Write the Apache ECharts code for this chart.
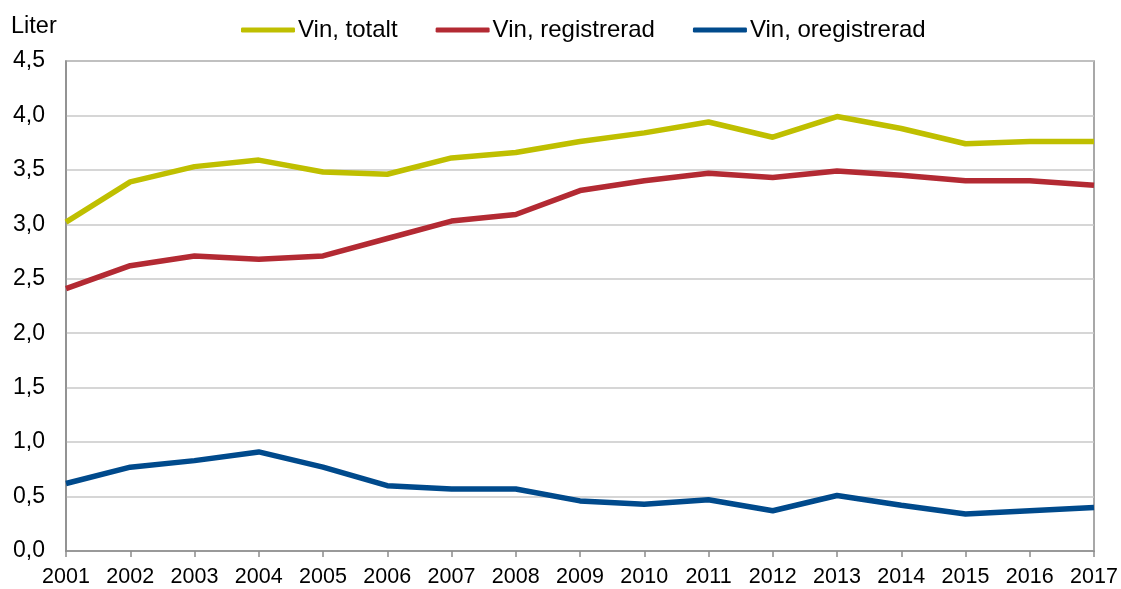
<!DOCTYPE html>
<html>
<head>
<meta charset="utf-8">
<script src="https://cdn.jsdelivr.net/npm/echarts@6/dist/echarts.min.js"></script>
<style>
  html, body { margin: 0; padding: 0; background: #fff; }
  #chart { width: 1121px; height: 589px; }
</style>
</head>
<body>
<div id="chart"></div>
<script>
// år på x-axeln
var years = ['2001', '2002', '2003', '2004', '2005', '2006', '2007', '2008', '2009',
  '2010', '2011', '2012', '2013', '2014', '2015', '2016', '2017']

// liter per invånare
var vinTotalt = [3.02, 3.39, 3.53, 3.59, 3.48, 3.46, 3.61, 3.66, 3.76, 3.84, 3.94, 3.80, 3.99, 3.88, 3.74, 3.76, 3.76]
var vinRegistrerad = [2.41, 2.62, 2.71, 2.68, 2.71, 2.87, 3.03, 3.09, 3.31, 3.40, 3.47, 3.43, 3.49, 3.45, 3.40, 3.40, 3.36]
var vinOregistrerad = [0.62, 0.77, 0.83, 0.91, 0.77, 0.60, 0.57, 0.57, 0.46, 0.43, 0.47, 0.37, 0.51, 0.42, 0.34, 0.37, 0.40]

var font = 'Liberation Sans, Arial, sans-serif'

var chart = echarts.init(document.getElementById('chart'))

/*========== serie-hjälpare ==========*/
function lineSeries(name, data, color) {
  return {
    name: name,
    type: 'line',
    data: data,
    showSymbol: false,
    symbol: 'none',
    lineStyle: { color: color, width: 5.5 },
    itemStyle: { color: color },
    animation: false
  }
}

chart.setOption({
  animation: false,
  textStyle: { fontFamily: font },
  legend: {
    top: 13,
    left: 236,
    itemWidth: 54,
    itemHeight: 5,
    itemGap: 38,
    icon: 'roundRect',
    textStyle: { fontSize: 24, color: '#000', fontFamily: font, padding: [0, 0, 0, -2] },
    data: ['Vin, totalt', 'Vin, registrerad', 'Vin, oregistrerad']
  },
  graphic: [{
    type: 'text',
    left: 11,
    top: 15,
    style: { text: 'Liter', fontSize: 23.5, fill: '#000', fontFamily: font }
  }],
  grid: {
    left: 66,
    right: 27,
    top: 61,
    bottom: 38,
    show: true,
    borderColor: '#8c8c8c',
    borderWidth: 1.5,
    containLabel: false
  },
  xAxis: {
    type: 'category',
    data: years,
    boundaryGap: false,
    axisLine: { lineStyle: { color: '#8c8c8c', width: 1.5 } },
    axisTick: { show: true, length: 6, lineStyle: { color: '#8c8c8c', width: 1.5 } },
    axisLabel: { fontSize: 21.5, color: '#000', margin: 15, fontFamily: font },
    splitLine: { show: false }
  },
  yAxis: {
    type: 'value',
    min: 0,
    max: 4.5,
    interval: 0.5,
    axisLine: { show: true, lineStyle: { color: '#8c8c8c', width: 1.5 } },
    axisTick: { show: false },
    axisLabel: {
      fontSize: 23,
      color: '#000',
      margin: 21,
      fontFamily: font,
      formatter: function (v) { return v.toFixed(1).replace('.', ',') }
    },
    splitLine: { lineStyle: { color: '#c8c8c8', width: 1.5 } }
  },
  series: [
    lineSeries('Vin, totalt', vinTotalt, '#bfbf00'),
    lineSeries('Vin, registrerad', vinRegistrerad, '#b32a33'),
    lineSeries('Vin, oregistrerad', vinOregistrerad, '#004a8c')
  ]
})
</script>
</body>
</html>
